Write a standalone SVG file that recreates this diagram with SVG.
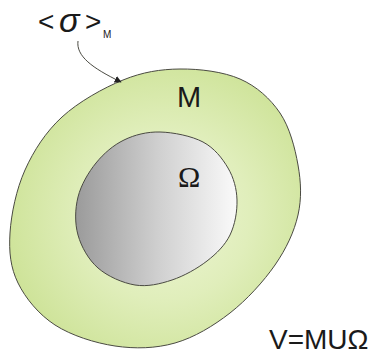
<svg xmlns="http://www.w3.org/2000/svg" width="378" height="356" viewBox="0 0 378 356">
<style>
.lbl{font-family:"Liberation Sans",Arial,sans-serif;fill:#1a1a1a}
.ser{font-family:"Liberation Serif","Times New Roman",serif;fill:#1a1a1a}
.edge{stroke:#4a4a42;stroke-width:1;fill:none}
</style>
<defs>
<radialGradient id="gGreen" cx="165" cy="215" r="170" gradientUnits="userSpaceOnUse">
<stop offset="0" stop-color="#eef6d6"/>
<stop offset="0.5" stop-color="#e0eebb"/>
<stop offset="1" stop-color="#cce295"/>
</radialGradient>
<linearGradient id="gGray" x1="78" y1="0" x2="237" y2="0" gradientUnits="userSpaceOnUse">
<stop offset="0" stop-color="#9c9c9c"/>
<stop offset="0.5" stop-color="#cfcfcf"/>
<stop offset="1" stop-color="#fafafa"/>
</linearGradient>
<marker id="arr" viewBox="0 0 10 10" refX="9" refY="5" markerWidth="7" markerHeight="7" orient="auto" markerUnits="userSpaceOnUse">
<path d="M0,0 L10,5 L0,10 Z" fill="#222"/>
</marker>
</defs>
<rect width="378" height="356" fill="#ffffff"/>
<g id="M">
<path d="M123,80 C142.7,72 160.5,69.2 180,69 C199.5,68.8 223.3,71.7 240,79 C256.7,86.3 270.3,98.7 280,113 C289.7,127.3 295,148 298,165 C301,182 301.8,198.3 298,215 C294.2,231.7 286.3,248.7 275,265 C263.7,281.3 246.7,300 230,313 C213.3,326 194.2,337.5 175,343 C155.8,348.5 135,349 115,346 C95,343 71.2,335.5 55,325 C38.8,314.5 25.5,298.3 18,283 C10.5,267.7 8.8,251.8 10,233 C11.2,214.2 16.3,189.3 25,170 C33.7,150.7 45.7,132 62,117 C78.3,102 103.3,88 123,80 Z" fill="url(#gGreen)" stroke="#4a4a42" stroke-width="1"/>
<text class="lbl" x="177" y="107" font-size="29">M</text>
</g>
<g id="Omega">
<path d="M160,132 C173.2,132.3 191.7,136 203,142 C214.3,148 222.3,158.3 228,168 C233.7,177.7 236.7,188.8 237,200 C237.3,211.2 235,224.8 230,235 C225,245.2 216.7,253.5 207,261 C197.3,268.5 184,276 172,280 C160,284 147.3,287 135,285 C122.7,283 107.5,276.3 98,268 C88.5,259.7 81.3,246.8 78,235 C74.7,223.2 75,209 78,197 C81,185 88.3,172.5 96,163 C103.7,153.5 113.3,145.2 124,140 C134.7,134.8 146.8,131.7 160,132 Z" fill="url(#gGray)" stroke="#4a4a42" stroke-width="1"/>
<text class="ser" x="178" y="187" font-size="30">Ω</text>
</g>
<g id="sigma-label">
<text class="lbl" x="38" y="31" font-size="28">&lt;</text>
<text class="lbl" x="59" y="32" font-size="34" font-style="italic">σ</text>
<text class="lbl" x="85" y="31" font-size="28">&gt;</text>
<text class="lbl" x="103" y="38" font-size="10">M</text>
</g>
<g id="connectors">
<path class="edge" d="M78,41 C76,56 92,68 121,82" marker-end="url(#arr)"/>
</g>
<g id="formula">
<text class="lbl" x="269" y="349" font-size="28">V=MUΩ</text>
</g>
</svg>
